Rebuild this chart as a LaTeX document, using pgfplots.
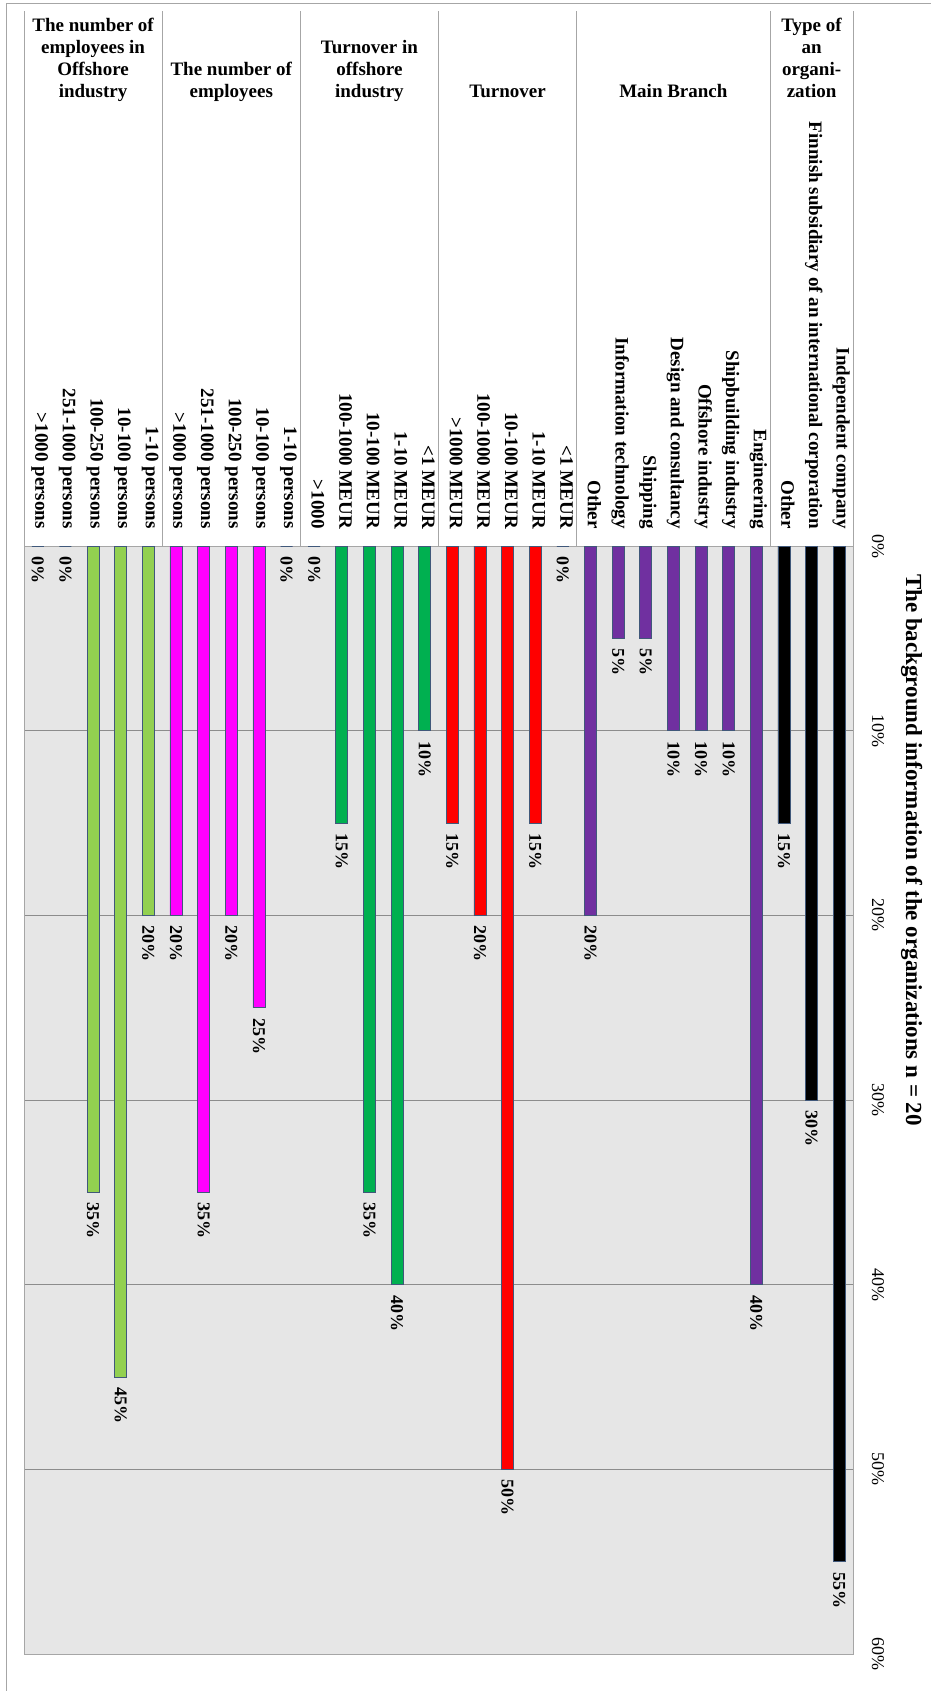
\documentclass[border=0pt]{standalone}
\usepackage{fontspec}
\setmainfont{Liberation Serif}
\usepackage{pgfplots}
\pgfplotsset{compat=1.18}
\definecolor{cBlack}{HTML}{000000}
\definecolor{cPurple}{HTML}{7030A0}
\definecolor{cRed}{HTML}{FF0000}
\definecolor{cGreen}{HTML}{00B050}
\definecolor{cMagenta}{HTML}{FF00FF}
\definecolor{cLime}{HTML}{92D050}
\definecolor{plotbg}{HTML}{E6E6E6}
\definecolor{gridc}{HTML}{8C8C8C}
\definecolor{sepc}{HTML}{A6A6A6}
\definecolor{barline}{HTML}{40587A}
\begin{document}
\begin{tikzpicture}
\useasboundingbox (0,0) rectangle (931pt,-1691pt);
\fill[white] (0,0) rectangle (931pt,-1691pt);
\draw[sepc, line width=1pt] (6pt,-1691pt) -- (6pt,-4pt) -- (931pt,-4pt);
\begin{axis}[
  at={(24pt,-546pt)}, anchor=north west,
  scale only axis, width=829pt, height=1108pt,
  xmin=-0.5, xmax=29.5, ymin=0, ymax=60,
  y dir=reverse,
  clip=false,
  ybar, bar width=12pt, bar shift=0pt,
  axis background/.style={fill=plotbg},
  axis line style={sepc, line width=1pt},
  ymajorgrids, major grid style={gridc, line width=0.8pt},
  major tick length=0pt,
  xtick={0,...,29},
  xticklabels={>1000 persons,251-1000 persons,100-250 persons,10-100 persons,1-10 persons,
    >1000 persons,251-1000 persons,100-250 persons,10-100 persons,1-10 persons,
    >1000,100-1000 MEUR,10-100 MEUR,1-10 MEUR,<1 MEUR,
    >1000 MEUR,100-1000 MEUR,10-100 MEUR,1-10 MEUR,<1 MEUR,
    Other,Information technology,Shipping,Design and consultancy,Offshore industry,Shipbuilding industry,Engineering,
    Other,Finnish subsidiary of an international corporation,Independent company},
  xticklabel pos=right,
  xticklabel style={rotate=-90, anchor=east, inner sep=0pt, font=\fontsize{19}{22}\selectfont\bfseries, text height=0.7em, text depth=0.2em},
  xticklabel shift=17pt,
  ytick={0,10,...,60},
  yticklabel pos=right,
  yticklabel={\pgfmathprintnumber[assume math mode=true]{\tick}\%},
  yticklabel style={rotate=-90, anchor=base, font=\fontsize{18}{20}\selectfont},
  yticklabel shift=19pt,
  point meta=y,
  nodes near coords={\pgfmathprintnumber[assume math mode=true]{\pgfplotspointmeta}\%},
  every node near coord/.append style={rotate=-90, anchor=west, inner xsep=10pt, inner ysep=0pt, font=\fontsize{18}{20}\selectfont\bfseries, text=black},
]
\addplot[fill=cLime, draw=barline, line width=0.75pt] coordinates {(0,0) (1,0) (2,35) (3,45) (4,20)};
\addplot[fill=cMagenta, draw=barline, line width=0.75pt] coordinates {(5,20) (6,35) (7,20) (8,25) (9,0)};
\addplot[fill=cGreen, draw=barline, line width=0.75pt] coordinates {(10,0) (11,15) (12,35) (13,40) (14,10)};
\addplot[fill=cRed, draw=barline, line width=0.75pt] coordinates {(15,15) (16,20) (17,50) (18,15) (19,0)};
\addplot[fill=cPurple, draw=barline, line width=0.75pt] coordinates {(20,20) (21,5) (22,5) (23,10) (24,10) (25,10) (26,40)};
\addplot[fill=cBlack, draw=barline, line width=0.75pt] coordinates {(27,15) (28,30) (29,55)};
\pgfplotsinvokeforeach{-0.5,4.5,9.5,14.5,19.5,26.5,29.5}{
  \draw[sepc, line width=1pt] (axis cs:#1,0) -- ++(0pt,535pt);
}
\begin{scope}[every node/.style={anchor=base, inner sep=0pt, font=\fontsize{19}{22}\selectfont\bfseries}]
\node at ([yshift=449pt]axis cs:2,0) {\begin{tabular}[b]{@{}c@{}}The number of\\employees in\\Offshore\\industry\end{tabular}};
\node at ([yshift=449pt]axis cs:7,0) {\begin{tabular}[b]{@{}c@{}}The number of\\employees\end{tabular}};
\node at ([yshift=449pt]axis cs:12,0) {\begin{tabular}[b]{@{}c@{}}Turnover in\\offshore\\industry\end{tabular}};
\node at ([yshift=449pt]axis cs:17,0) {\begin{tabular}[b]{@{}c@{}}Turnover\end{tabular}};
\node at ([yshift=449pt]axis cs:23,0) {\begin{tabular}[b]{@{}c@{}}Main Branch\end{tabular}};
\node at ([yshift=449pt]axis cs:28,0) {\begin{tabular}[b]{@{}c@{}}Type of\\an\\organi-\\zation\end{tabular}};
\end{scope}
\end{axis}
\node[rotate=-90, anchor=base, inner sep=0pt, font=\fontsize{23}{26}\selectfont\bfseries] at (906pt,-850pt) {The background information of the organizations n = 20};
\end{tikzpicture}
\end{document}
